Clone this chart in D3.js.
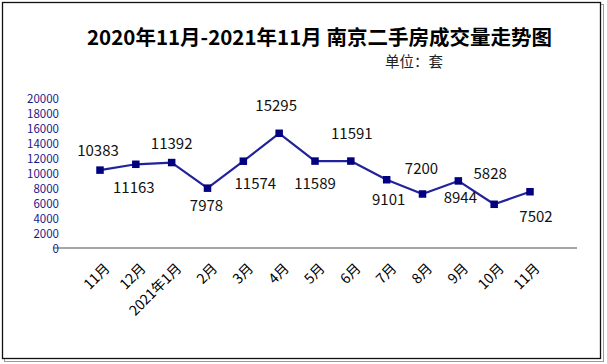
<!DOCTYPE html>
<html>
<head>
<meta charset="utf-8">
<script src="https://cdn.jsdelivr.net/npm/d3@7"></script>
<style>
  html, body { margin: 0; padding: 0; background: #fff; }
  svg { display: block; }
</style>
</head>
<body>
<svg id="chart" width="607" height="364"></svg>
<script>
const categories = ["11月","12月","2021年1月","2月","3月","4月","5月","6月","7月","8月","9月","10月","11月"];
const values = [10383,11163,11392,7978,11574,15295,11589,11591,9101,7200,8944,5828,7502];
const yTicks = [0,2000,4000,6000,8000,10000,12000,14000,16000,18000,20000];
const titleText = "2020年11月-2021年11月 南京二手房成交量走势图";
const unitText = "单位：套";
// label placement relative to each point (layout only)
const labelDx = [-2,-2,0,-1,12,-3,0,1,2,-1,2,-4,6];
const labelDy = [-21,22,-20,16,21,-29,21,-29,19,-27,16,-32,24];

const svg = d3.select("#chart");
const cjk = "'Noto Sans CJK SC', 'Noto Sans', sans-serif";

// frame with shadow
svg.append("rect").attr("x", 4.5).attr("y", 4.5).attr("width", 599).attr("height", 357)
  .attr("fill", "none").attr("stroke", "#9a9a9a").attr("stroke-width", 1);
svg.append("rect").attr("x", 2.5).attr("y", 2.5).attr("width", 598).attr("height", 356)
  .attr("fill", "#fff").attr("stroke", "#111").attr("stroke-width", 1.3);

const x = d3.scalePoint().domain(d3.range(categories.length)).range([100, 530]);
const y = d3.scaleLinear().domain([0, 20000]).range([248, 98]);

// title
svg.append("text").attr("x", 87).attr("y", 45)
  .attr("font-family", cjk).attr("font-weight", "bold").attr("font-size", 20.5)
  .attr("fill", "#000").text(titleText);
svg.append("text").attr("x", 385).attr("y", 67)
  .attr("font-family", cjk).attr("font-size", 14.5).attr("fill", "#222").text(unitText);

// x axis baseline
svg.append("line").attr("x1", 53).attr("x2", 577).attr("y1", y(0)).attr("y2", y(0))
  .attr("stroke", "#a6a6a6").attr("stroke-width", 2);

// y axis labels (via d3 axis)
const yAxis = d3.axisLeft(y).tickValues(yTicks).tickSize(0).tickPadding(0).tickFormat(d3.format("d"));
const yg = svg.append("g").attr("transform", "translate(59,0)").call(yAxis);
yg.select(".domain").remove();
yg.selectAll("text").attr("font-family", cjk).attr("font-size", 11.5).attr("fill", "#1a1a8a")
  .attr("dy", "0.35em");

// x axis labels
const xAxis = d3.axisBottom(x).tickSize(0).tickFormat(i => categories[i]);
const xg = svg.append("g").attr("transform", `translate(0,${y(0)})`).call(xAxis);
xg.select(".domain").remove();
xg.selectAll(".tick text")
  .attr("font-family", cjk).attr("font-size", 14).attr("fill", "#000")
  .attr("text-anchor", "end").attr("dy", null).attr("y", 0)
  .attr("dominant-baseline", "central")
  .attr("transform", "translate(6,17) rotate(-45)");

// line
const line = d3.line().x((d, i) => x(i)).y(d => y(d));
svg.append("path").datum(values).attr("d", line)
  .attr("fill", "none").attr("stroke", "#22229a").attr("stroke-width", 2.2)
  .attr("stroke-linejoin", "round");

// markers
const ms = 7.5;
svg.selectAll("rect.m").data(values).join("rect").attr("class", "m")
  .attr("x", (d, i) => x(i) - ms / 2).attr("y", d => y(d) - ms / 2)
  .attr("width", ms).attr("height", ms).attr("fill", "#000080");

// data labels
svg.selectAll("text.lbl").data(values).join("text").attr("class", "lbl")
  .attr("x", (d, i) => x(i) + labelDx[i]).attr("y", (d, i) => y(d) + labelDy[i])
  .attr("text-anchor", "middle").attr("dominant-baseline", "central")
  .attr("font-family", cjk).attr("font-size", 15).attr("fill", "#111")
  .text(d => d);
</script>
</body>
</html>
